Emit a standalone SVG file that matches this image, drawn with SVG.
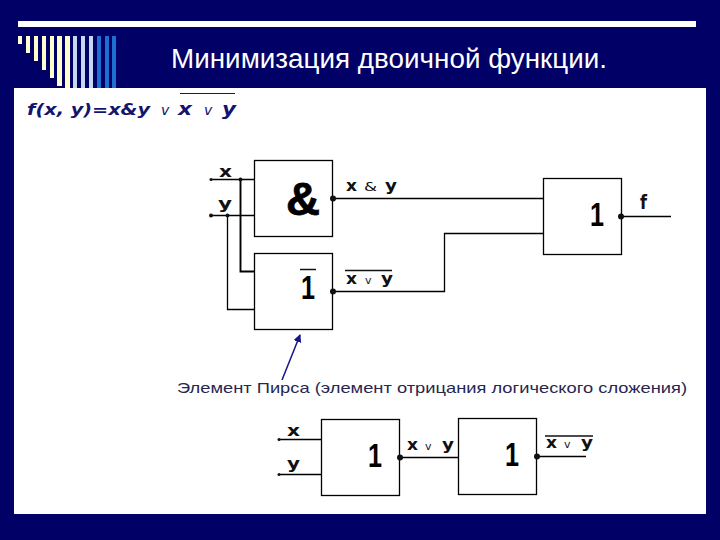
<svg xmlns="http://www.w3.org/2000/svg" width="720" height="540" viewBox="0 0 720 540">
<style>
.box{fill:#fff;stroke:#000;stroke-width:1.300}
.w{fill:none;stroke:#000;stroke-width:1.300}
.l{font-family:"DejaVu Sans",sans-serif;font-weight:700;fill:#111;font-size:15px}
.s{font-family:"DejaVu Sans",sans-serif;font-weight:400;fill:#222;font-size:11px}
.n{font-family:"Liberation Sans",Arial,sans-serif;font-weight:700;fill:#000;font-size:33px;text-anchor:middle}
.f{font-family:"DejaVu Sans",sans-serif;font-weight:700;font-style:italic;fill:#14146e;font-size:15px}
.o{font-weight:400;font-size:14px}
.d{fill:#111}
.cream{fill:#ffffcc}
.pale{fill:#c4d8f0}
.blue{fill:#1f6fd0}
</style>
<defs>
<marker id="ah" markerWidth="9" markerHeight="9" refX="7" refY="4" orient="auto" markerUnits="userSpaceOnUse"><path d="M0 0L8 4L0 8Z" fill="#14148c"/></marker>
</defs>
<rect width="720" height="540" fill="#000066"/>
<rect x="18" y="21" width="678" height="6" fill="#fff"/>
<g id="stripes">
<rect class="cream" x="18" y="36" width="4" height="8"/>
<rect class="cream" x="26" y="36" width="4" height="17"/>
<rect class="cream" x="34" y="36" width="4" height="25"/>
<rect class="cream" x="42" y="36" width="4" height="34"/>
<rect class="cream" x="50" y="36" width="4" height="42"/>
<rect class="cream" x="57" y="36" width="5" height="50"/>
<rect class="cream" x="65" y="36" width="5" height="52"/>
<rect class="pale" x="73" y="36" width="4" height="52"/>
<rect class="pale" x="81" y="36" width="4" height="52"/>
<rect class="pale" x="89" y="36" width="4" height="52"/>
<rect class="blue" x="97" y="36" width="4" height="52"/>
<rect class="blue" x="105" y="36" width="4" height="52"/>
<rect class="blue" x="112" y="36" width="4" height="52"/>
</g>
<text x="171" y="68" font-family="'Liberation Sans',Arial,sans-serif" font-size="27" fill="#fff" textLength="436" lengthAdjust="spacingAndGlyphs">Минимизация двоичной функции.</text>
<rect x="14" y="88" width="692" height="426" fill="#fff"/>
<g id="formula">
<text class="f" x="27" y="115" textLength="123" lengthAdjust="spacingAndGlyphs">f(x, y)=x&amp;y</text>
<text class="f o" x="161" y="115">v</text>
<text class="f" x="178" y="115" style="font-size:17px" textLength="14" lengthAdjust="spacingAndGlyphs">x</text>
<text class="f o" x="204" y="115">v</text>
<text class="f" x="222" y="115" style="font-size:17px" textLength="14" lengthAdjust="spacingAndGlyphs">y</text>
<line x1="180" y1="93.500" x2="235" y2="93.500" stroke="#14146e" stroke-width="1.200"/>
</g>
<g id="connectors">
<path class="w" d="M211 179.500H254M211 215.500H254"/>
<path class="w" d="M240.500 179.500V271.500H254" style="stroke-width:1.900"/>
<path class="w" d="M227.500 215.500V309.500H254"/>
<path class="w" d="M333 198.500H543"/>
<path class="w" d="M333 291.500H444.500V233.500H543"/>
<path class="w" d="M621 216.500H671"/>
<path class="w" d="M279 439.500H321M279 474.500H321"/>
<path class="w" d="M400 457.500H458"/>
<path class="w" d="M537 456.500H586"/>
<line x1="282" y1="380" x2="300" y2="335" stroke="#14148c" stroke-width="1.500" marker-end="url(#ah)"/>
</g>
<g id="and">
<rect class="box" x="254.500" y="160.500" width="78" height="76"/>
<text x="303" y="215" font-family="'Liberation Sans',Arial,sans-serif" font-weight="700" font-size="46" text-anchor="middle" fill="#000" stroke="#000" stroke-width="0.800" textLength="34" lengthAdjust="spacingAndGlyphs">&amp;</text>
<circle class="d" cx="333" cy="198.500" r="3"/>
</g>
<g id="peirce">
<rect class="box" x="254.500" y="253.500" width="78" height="76"/>
<text class="n" x="308" y="299" textLength="14" lengthAdjust="spacingAndGlyphs">1</text>
<line x1="300" y1="269.500" x2="316" y2="269.500" stroke="#111" stroke-width="1.500"/>
<circle class="d" cx="333" cy="291.500" r="3"/>
</g>
<g id="or">
<rect class="box" x="543.500" y="178.500" width="78" height="76"/>
<text class="n" x="597" y="226" textLength="14" lengthAdjust="spacingAndGlyphs">1</text>
<circle class="d" cx="621" cy="216.500" r="3"/>
</g>
<g id="or1">
<rect class="box" x="321.500" y="419.500" width="78" height="76"/>
<text class="n" x="375" y="467" textLength="14" lengthAdjust="spacingAndGlyphs">1</text>
<circle class="d" cx="400" cy="457.500" r="3"/>
</g>
<g id="or2">
<rect class="box" x="458.500" y="418.500" width="78" height="76"/>
<text class="n" x="512" y="466" textLength="14" lengthAdjust="spacingAndGlyphs">1</text>
<circle class="d" cx="537" cy="456.500" r="3"/>
</g>
<g id="labels">
<circle class="d" cx="211" cy="179.500" r="1.500"/><circle class="d" cx="211" cy="215.500" r="2"/>
<circle class="d" cx="240.500" cy="179.500" r="2"/><circle class="d" cx="227.500" cy="215.500" r="2"/>
<circle class="d" cx="279" cy="439.500" r="1.500"/><circle class="d" cx="279" cy="474.500" r="1.500"/>
<text class="l" x="219" y="177" textLength="13" lengthAdjust="spacingAndGlyphs">x</text>
<text class="l" x="218" y="209" textLength="14" lengthAdjust="spacingAndGlyphs">y</text>
<text class="l" x="346" y="191" textLength="11" lengthAdjust="spacingAndGlyphs">x</text>
<text class="l" x="364" y="191" style="font-size:12px;font-weight:400" textLength="13" lengthAdjust="spacingAndGlyphs">&amp;</text>
<text class="l" x="385" y="191" textLength="12" lengthAdjust="spacingAndGlyphs">y</text>
<text class="l" x="346" y="284" textLength="11" lengthAdjust="spacingAndGlyphs">x</text><text class="s" x="365" y="284">v</text><text class="l" x="381" y="284" textLength="12" lengthAdjust="spacingAndGlyphs">y</text>
<line x1="345" y1="270.500" x2="392" y2="270.500" stroke="#111" stroke-width="1.500"/>
<text class="l" x="640" y="209" style="font-size:20px" textLength="7" lengthAdjust="spacingAndGlyphs">f</text>
<text class="l" x="287" y="436" textLength="13" lengthAdjust="spacingAndGlyphs">x</text>
<text class="l" x="287" y="469" textLength="13" lengthAdjust="spacingAndGlyphs">y</text>
<text class="l" x="407" y="450" textLength="11" lengthAdjust="spacingAndGlyphs">x</text><text class="s" x="425" y="450">v</text><text class="l" x="442" y="450" textLength="12" lengthAdjust="spacingAndGlyphs">y</text>
<text class="l" x="546" y="448" textLength="11" lengthAdjust="spacingAndGlyphs">x</text><text class="s" x="564" y="448">v</text><text class="l" x="581" y="448" textLength="12" lengthAdjust="spacingAndGlyphs">y</text>
<line x1="545" y1="436" x2="593" y2="436" stroke="#111" stroke-width="1.500"/>
<text x="177" y="393" font-family="'Liberation Sans',Arial,sans-serif" font-size="15" fill="#262650" textLength="510" lengthAdjust="spacingAndGlyphs">Элемент Пирса (элемент отрицания логического сложения)</text>
</g>
</svg>
